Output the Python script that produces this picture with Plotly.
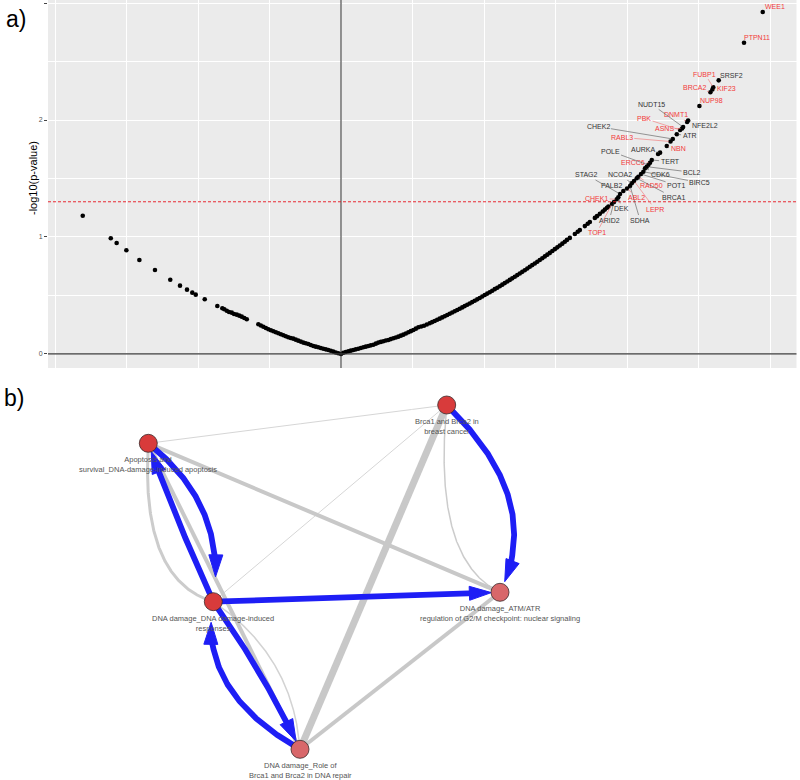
import numpy as np
import plotly.graph_objects as go

# ---------------- panel a) data ----------------
left_x = [-1.806, -1.610, -1.569, -1.501, -1.410, -1.301, -1.194, -1.126, -1.077, -1.040,
          -1.016, -0.953, -0.865, -0.830, -0.816, -0.799, -0.783, -0.764, -0.748, -0.729,
          -0.711, -0.694, -0.6765, -0.659, -0.578, -0.5605, -0.543, -0.5255, -0.508, -0.4905,
          -0.473, -0.4555, -0.438, -0.4205, -0.403, -0.386, -0.369, -0.3515, -0.334, -0.3165,
          -0.299, -0.2815, -0.264, -0.2465, -0.229, -0.2115, -0.194, -0.1765, -0.159, -0.1415,
          -0.124, -0.1065, -0.089, -0.0715, -0.054, -0.0365, -0.019, 0.0]
left_y = [1.182, 0.989, 0.949, 0.886, 0.803, 0.718, 0.635, 0.584, 0.550, 0.524,
          0.507, 0.468, 0.410, 0.391, 0.382, 0.370, 0.359, 0.353, 0.342, 0.336,
          0.3275, 0.319, 0.308, 0.297, 0.254, 0.2435, 0.233, 0.222, 0.211, 0.2025,
          0.194, 0.1855, 0.177, 0.1685, 0.160, 0.1515, 0.143, 0.137, 0.131, 0.1225,
          0.114, 0.1055, 0.097, 0.091, 0.085, 0.0765, 0.068, 0.0625, 0.057, 0.051,
          0.045, 0.0395, 0.034, 0.027, 0.020, 0.013, 0.006, 0.0]

right_x = [0.016, 0.0335, 0.051, 0.0685, 0.086, 0.1035, 0.121, 0.1385, 0.156, 0.1735,
           0.191, 0.2085, 0.226, 0.2435, 0.261, 0.2785, 0.296, 0.3135, 0.331, 0.3485,
           0.366, 0.3835, 0.401, 0.4185, 0.436, 0.4535, 0.471, 0.4885, 0.506, 0.5235,
           0.541, 0.5605, 0.58, 0.60, 0.62, 0.6375, 0.655, 0.6725, 0.69, 0.7075,
           0.725, 0.7425, 0.76, 0.7775, 0.795, 0.8125, 0.83, 0.8475, 0.865, 0.8825,
           0.90, 0.9175, 0.935, 0.9525, 0.97, 0.9875, 1.005, 1.0225, 1.04, 1.0575,
           1.075, 1.0925, 1.11, 1.1275, 1.145, 1.1625, 1.18, 1.1975, 1.215, 1.2325,
           1.25, 1.2675, 1.285, 1.3025, 1.32, 1.3375, 1.355, 1.3725, 1.39, 1.4075,
           1.425, 1.4425, 1.46, 1.4775, 1.495, 1.5125, 1.53, 1.5475, 1.565, 1.58,
           1.60, 1.635, 1.655, 1.67, 1.705, 1.725, 1.74, 1.775, 1.79, 1.81,
           1.83, 1.845, 1.86, 1.87]
right_y = [0.011, 0.017, 0.023, 0.0285, 0.034, 0.0395, 0.045, 0.051, 0.057, 0.0625,
           0.068, 0.0735, 0.079, 0.088, 0.097, 0.103, 0.109, 0.1145, 0.120, 0.127,
           0.134, 0.141, 0.148, 0.1565, 0.165, 0.175, 0.185, 0.195, 0.205, 0.2165,
           0.228, 0.2345, 0.241, 0.252, 0.263, 0.2725, 0.282, 0.292, 0.302, 0.3125,
           0.323, 0.3335, 0.344, 0.3545, 0.365, 0.376, 0.387, 0.398, 0.409, 0.4205,
           0.432, 0.4435, 0.455, 0.467, 0.479, 0.4915, 0.504, 0.516, 0.528, 0.541,
           0.554, 0.5665, 0.579, 0.5925, 0.606, 0.6195, 0.633, 0.6465, 0.660, 0.674,
           0.688, 0.702, 0.716, 0.7305, 0.745, 0.7595, 0.774, 0.7885, 0.803, 0.8185,
           0.834, 0.849, 0.864, 0.880, 0.896, 0.9115, 0.927, 0.943, 0.959, 0.975,
           0.992, 1.025, 1.045, 1.059, 1.093, 1.113, 1.128, 1.163, 1.178, 1.198,
           1.218, 1.234, 1.250, 1.260]

genes = ["WEE1", "PTPN11", "SRSF2", "FUBP1", "KIF23", "BRCA2", "NUP98", "NFE2L2", "DNMT1",
         "NUDT15", "ASNS", "PBK", "ATR", "CHEK2", "RABL3", "NBN", "AURKA", "TERT", "ERCC6",
         "POLE", "BCL2", "CDK6", "BIRC5", "POT1", "RAD50", "BRCA1", "LEPR", "NCOA2", "SDHA",
         "ABL2", "PALB2", "STAG2", "DEK", "CHEK1", "ARID2", "TOP1"]
gene_x = [2.949, 2.818, 2.641, 2.603, 2.597, 2.583, 2.506, 2.427, 2.420,
          2.392, 2.385, 2.371, 2.348, 2.320, 2.304, 2.278, 2.231, 2.173, 2.161,
          2.149, 2.138, 2.126, 2.114, 2.098, 2.079, 2.068, 2.049, 2.033, 2.021,
          2.000, 1.974, 1.951, 1.939, 1.928, 1.909, 1.895]
gene_y = [2.923, 2.661, 2.339, 2.279, 2.261, 2.237, 2.120, 1.996, 1.983,
          1.940, 1.927, 1.915, 1.878, 1.838, 1.816, 1.778, 1.721, 1.658, 1.635,
          1.615, 1.601, 1.587, 1.558, 1.538, 1.515, 1.502, 1.479, 1.459, 1.436,
          1.415, 1.393, 1.368, 1.339, 1.322, 1.299, 1.282]
gene_highlight = [True, True, False, True, True, True, True, False, True,
                  False, True, True, False, False, True, True, False, False, True,
                  False, False, False, False, False, True, False, True, False, False,
                  True, False, False, False, True, False, True]
extra_x = [2.217]
extra_y = [1.709]
threshold = 1.301

# label placement (repelled text positions)
label_x = [3.035, 2.907, 2.727, 2.545, 2.692, 2.469, 2.594, 2.545, 2.341,
           2.173, 2.259, 2.119, 2.434, 1.797, 1.963, 2.357, 2.112, 2.301, 2.044,
           1.881, 2.455, 2.231, 2.510, 2.343, 2.173, 2.324, 2.196, 1.951, 2.091,
           2.068, 1.893, 1.718, 1.963, 1.788, 1.876, 1.788]
label_y = [2.968, 2.707, 2.379, 2.393, 2.271, 2.276, 2.171, 1.955, 2.043,
           2.134, 1.929, 2.015, 1.866, 1.944, 1.852, 1.758, 1.750, 1.644, 1.638,
           1.735, 1.553, 1.536, 1.464, 1.444, 1.444, 1.339, 1.237, 1.530, 1.145,
           1.339, 1.438, 1.530, 1.245, 1.331, 1.145, 1.037]

# ---------------- panel b) data ----------------
node_names = ["A", "B", "C", "D", "E"]
node_labels = ["Apoptosis and<br>survival_DNA-damage-induced apoptosis",
               "Brca1 and Brca2 in<br>breast cancer",
               "DNA damage_DNA damage-induced<br>responses",
               "DNA damage_ATM/ATR<br>regulation of G2/M checkpoint: nuclear signaling",
               "DNA damage_Role of<br>Brca1 and Brca2 in DNA repair"]
node_colors = ["#D83B3B", "#D83B3B", "#D83B3B", "#D8676A", "#D8676A"]
# layout coordinates of the network (pixel-like space)
layout_pos = {"A": (148.3, 443.3), "B": (446.7, 405.0), "C": (213.3, 601.7),
              "D": (500.0, 592.3), "E": (300.0, 749.3)}

# edges: source, target, width, colour, control point (None = straight)
gray_edges = [
    ("A", "B", 1.0, "#D6D6D6", None),
    ("B", "C", 1.0, "#D6D6D6", None),
    ("A", "C", 3.0, "#CCCCCC", (140, 580)),
    ("B", "D", 1.5, "#CCCCCC", (432, 560)),
    ("C", "E", 1.5, "#D3D3D3", (293, 655)),
    ("A", "D", 4.0, "#C8C8C8", None),
    ("A", "E", 4.0, "#C8C8C8", None),
    ("D", "E", 4.0, "#C8C8C8", None),
    ("B", "E", 7.0, "#C8C8C8", None),
]
blue_edges = [  # directed: source, target, control point, gap before target
    ("A", "C", (228, 506), 16),
    ("C", "A", (176, 520), 0),
    ("C", "D", None, 0),
    ("B", "D", (545, 500), 3),
    ("C", "E", (262, 670), 0),
    ("E", "C", (197, 691), 12),
]

BLUE = "#1E1EF5"
R = 8.5

fig = go.Figure()

# ---- panel a traces ----
fig.add_trace(go.Scatter(x=left_x + right_x + extra_x + gene_x,
                         y=left_y + right_y + extra_y + gene_y,
                         mode="markers", marker=dict(size=4.6, color="black"),
                         hoverinfo="skip", showlegend=False, xaxis="x", yaxis="y"))

annotations = []
for g, gx, gy, lx, ly, hl in zip(genes, gene_x, gene_y, label_x, label_y, gene_highlight):
    col = "#F23A3A" if hl else "#333333"
    lcol = "#F27070" if hl else "#555555"
    annotations.append(dict(x=gx, y=gy, ax=lx, ay=ly, xref="x", yref="y", axref="x", ayref="y",
                            text=g, showarrow=True, arrowhead=0, arrowwidth=0.6,
                            arrowcolor=lcol, standoff=1.5,
                            font=dict(size=7, color=col, family="Liberation Sans, Arial")))

# ---- panel b traces ----
def bezier(p0, q, p2, n=400):
    p0, q, p2 = np.array(p0, float), np.array(q, float), np.array(p2, float)
    t = np.linspace(0, 1, n)[:, None]
    return (1 - t) ** 2 * p0 + 2 * (1 - t) * t * q + t ** 2 * p2

def ctrl(a, b, q):
    if q is None:
        return ((a[0] + b[0]) / 2, (a[1] + b[1]) / 2)
    return q

for s, t, w, c, q in gray_edges:
    a, b = layout_pos[s], layout_pos[t]
    pts = bezier(a, ctrl(a, b, q), b)
    fig.add_trace(go.Scatter(x=pts[:, 0], y=pts[:, 1], mode="lines",
                             line=dict(color=c, width=w), hoverinfo="skip",
                             showlegend=False, xaxis="x2", yaxis="y2"))

L, HW = 22, 7
for s, t, q, gap in blue_edges:
    a, b = layout_pos[s], layout_pos[t]
    pts = bezier(a, ctrl(a, b, q), b)
    d = np.hypot(pts[:, 0] - b[0], pts[:, 1] - b[1])
    idx = np.where(d >= R + gap)[0].max()
    tip = pts[idx]
    back = pts[max(idx - 8, 0)]
    u = (tip - back) / np.linalg.norm(tip - back)
    perp = np.array([-u[1], u[0]])
    base = tip - L * u
    keep = pts[:idx + 1]
    keep = keep[np.hypot(keep[:, 0] - tip[0], keep[:, 1] - tip[1]) > L * 0.8]
    line_pts = np.vstack([keep, base + 0.3 * L * u])
    fig.add_trace(go.Scatter(x=line_pts[:, 0], y=line_pts[:, 1], mode="lines",
                             line=dict(color=BLUE, width=5.8), hoverinfo="skip",
                             showlegend=False, xaxis="x2", yaxis="y2"))
    tri = np.array([tip, base + HW * perp, base - HW * perp, tip])
    fig.add_trace(go.Scatter(x=tri[:, 0], y=tri[:, 1], mode="lines", fill="toself",
                             fillcolor=BLUE, line=dict(color=BLUE, width=1),
                             hoverinfo="skip", showlegend=False, xaxis="x2", yaxis="y2"))

fig.add_trace(go.Scatter(x=[layout_pos[n][0] for n in node_names],
                         y=[layout_pos[n][1] for n in node_names],
                         mode="markers",
                         marker=dict(size=2 * R + 1, color=node_colors,
                                     line=dict(color="#3A2A2A", width=0.8)),
                         hoverinfo="skip", showlegend=False, xaxis="x2", yaxis="y2"))

for n, lab in zip(node_names, node_labels):
    x0, y0 = layout_pos[n]
    annotations.append(dict(x=x0, y=y0 + 10, xref="x2", yref="y2", text=lab,
                            showarrow=False, yanchor="top", xanchor="center",
                            font=dict(size=7.5, color="#555555", family="Liberation Sans, Arial")))

# panel tags and y title
annotations += [
    dict(x=4 / 800, y=1 - 19 / 780, xref="paper", yref="paper", text="a)", showarrow=False,
         xanchor="left", yanchor="middle", font=dict(size=23, color="black", family="Liberation Sans, Arial")),
    dict(x=2 / 800, y=1 - 398 / 780, xref="paper", yref="paper", text="b)", showarrow=False,
         xanchor="left", yanchor="middle", font=dict(size=23, color="black", family="Liberation Sans, Arial")),
    dict(x=33 / 800, y=1 - 178 / 780, xref="paper", yref="paper", text="-log10(p-value)",
         showarrow=False, textangle=-90, xanchor="center", yanchor="middle",
         font=dict(size=11, color="black", family="Liberation Sans, Arial")),
]

shapes = [
    dict(type="line", xref="x", yref="y domain", x0=0, x1=0, y0=0, y1=1,
         line=dict(color="#2B2B2B", width=1)),
    dict(type="line", xref="x domain", yref="y", x0=0, x1=1, y0=0, y1=0,
         line=dict(color="#3A3A3A", width=1.2)),
    dict(type="line", xref="x domain", yref="y", x0=0, x1=1, y0=threshold, y1=threshold,
         line=dict(color="#E8141E", width=0.9, dash="3px,2px")),
]

fig.update_layout(
    width=800, height=780, margin=dict(l=0, r=0, t=0, b=0),
    paper_bgcolor="white", plot_bgcolor="#EBEBEB",
    xaxis=dict(domain=[48 / 800, 796.5 / 800], range=[-2.049, 3.185], showticklabels=False,
               ticks="", showgrid=True, gridcolor="white", gridwidth=1, dtick=0.5, tick0=0,
               zeroline=False, showline=False, anchor="y"),
    yaxis=dict(domain=[1 - 368 / 780, 1], range=[-0.12, 3.026], tickvals=[0, 1, 2, 3],
               ticks="outside", ticklen=3, tickcolor="#444", tickwidth=0.8,
               tickfont=dict(size=7, color="#555", family="Liberation Sans, Arial"),
               showgrid=True, gridcolor="white", gridwidth=1,
               minor=dict(dtick=0.5, tick0=0, showgrid=True, gridcolor="white", gridwidth=0.6),
               zeroline=False, showline=False, anchor="x"),
    xaxis2=dict(domain=[0, 1], range=[0, 800], visible=False, anchor="y2"),
    yaxis2=dict(domain=[0, 0.5], range=[780, 390], visible=False, anchor="x2"),
    annotations=annotations, shapes=shapes,
)
fig.add_shape(type="rect", xref="paper", yref="paper", x0=0, x1=1, y0=0, y1=0.5,
              fillcolor="white", line=dict(width=0), layer="below")

fig.write_html("out.html", config={"displayModeBar": False},
               post_script="document.body.style.margin='0';document.body.style.overflow='hidden';")
